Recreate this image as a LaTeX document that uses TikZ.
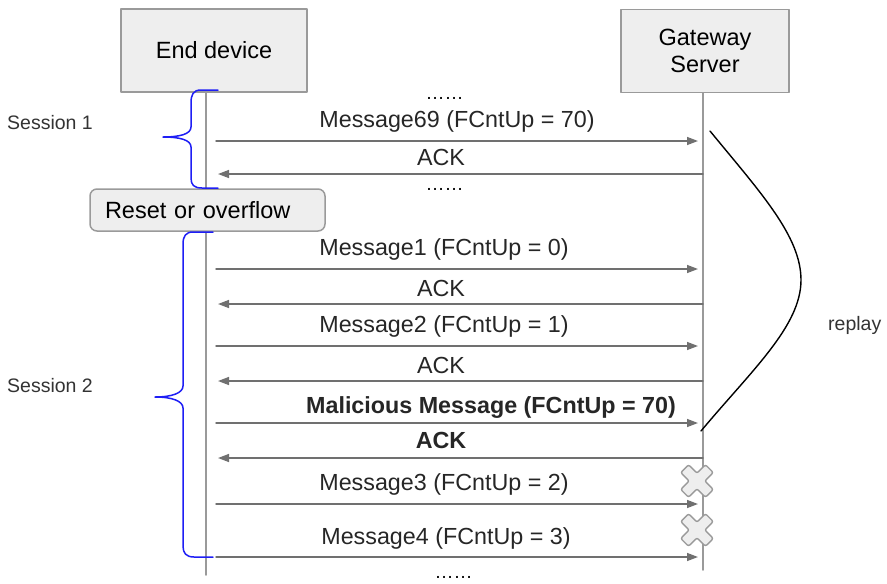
\documentclass[tikz,border=0pt]{standalone}
\usepackage{fontspec}
\setmainfont{Liberation Sans}
\usetikzlibrary{arrows.meta}
\definecolor{boxfill}{HTML}{EEEEEE}
\definecolor{boxline}{HTML}{9A9A9A}
\definecolor{msgline}{HTML}{707070}
\definecolor{braceblue}{HTML}{1E1EF5}
\begin{document}
\begin{tikzpicture}[x=1pt, y=-1pt, line join=round, line cap=round,
	actor/.style={draw=boxline, fill=boxfill, line width=1.5pt, minimum height=83pt, align=center, font=\fontsize{23.5}{27}\selectfont},
	life/.style={draw=boxline, line width=1.5pt},
	msg/.style={draw=msgline, line width=1.4pt, -{Triangle[length=11pt, width=8pt]}},
	lbl/.style={anchor=base, inner sep=0pt, font=\fontsize{23.3}{27}\selectfont, text=black!85},
	side/.style={anchor=base west, inner sep=0pt, font=\fontsize{19.5}{23}\selectfont, text=black!80},
	dots/.style={anchor=base, inner sep=0pt, font=\fontsize{19}{23}\selectfont},
	brace/.style={draw=braceblue, line width=1.5pt},
	resetbox/.style={draw=boxline, fill=boxfill, line width=1.5pt, rounded corners=7pt, minimum height=42pt, text width=205pt, inner xsep=15pt, align=left, font=\fontsize{23.5}{27}\selectfont},
	crossmark/.style={draw=boxline, fill=boxfill, line width=1.4pt, rounded corners=2pt}]
	\useasboundingbox (0,0) rectangle (887,584);
	% actors and lifelines
	\node[actor, minimum width=186pt] (ed) at (214,50.5) {End device};
	\node[actor, minimum width=168pt] (gw) at (705,51) {Gateway\\Server};
	\coordinate (edtop) at (206,92);
	\coordinate (edbot) at (206,575);
	\coordinate (gwtop) at (703,93);
	\coordinate (gwbot) at (703,570);
	\draw[life] (edtop) -- (edbot);
	\draw[life] (gwtop) -- (gwbot);
	% uplink messages
	\foreach \n/\ay/\tx/\ty/\txt in {m69/141/457/127/Message69 (FCntUp = 70),
		m1/269/444/255/Message1 (FCntUp = 0), m2/346/444/332/Message2 (FCntUp = 1),
		mal/423/491/413/\textbf{Malicious Message (FCntUp = 70)},
		m3/504/444/490/Message3 (FCntUp = 2), m4/557/446/544/Message4 (FCntUp = 3)}{
		\coordinate (\n-s) at (216,\ay);
		\coordinate (\n-e) at (698,\ay);
		\draw[msg] (\n-s) -- (\n-e);
		\node[lbl] (\n-l) at (\tx,\ty) {\txt};
	}
	% acks
	\foreach \n/\ay/\ty/\txt in {a1/174/165/ACK, a2/304/296/ACK, a3/381/373/ACK, a4/458/448/\textbf{ACK}}{
		\coordinate (\n-s) at (703,\ay);
		\coordinate (\n-e) at (218,\ay);
		\draw[msg] (\n-s) -- (\n-e);
		\node[lbl] (\n-l) at (441,\ty) {\txt};
	}
	% lost messages
	\foreach \cy in {481,530}{
		\begin{scope}[shift={(697,\cy)}, rotate=45]
			\draw[crossmark] (-5.5,-17.5) -- (5.5,-17.5) -- (5.5,-5.5) -- (17.5,-5.5) -- (17.5,5.5) -- (5.5,5.5) -- (5.5,17.5) -- (-5.5,17.5) -- (-5.5,5.5) -- (-17.5,5.5) -- (-17.5,-5.5) -- (-5.5,-5.5) -- cycle;
		\end{scope}
	}
	% dots
	\node[dots] (d1) at (444.5,99) {……};
	\node[dots] (d2) at (444.5,190) {……};
	\node[dots] (d3) at (453.5,578) {……};
	% sessions
	\node[resetbox] (rst) at (207.5,210) {Reset or overflow};
	\node[side] (s1) at (7,129) {Session 1};
	\node[side] (s2) at (7,392) {Session 2};
	\draw[brace] (218,90) -- (201,90) .. controls (193,90) and (191,95) .. (191,103) -- (191,127)
		.. controls (191,134) and (180,137) .. (163,137) .. controls (180,137) and (191,140) .. (191,147)
		-- (191,178) .. controls (191,185) and (194,188) .. (202,188) -- (218,188);
	\draw[brace] (213,232) -- (193,232) .. controls (186,232) and (183,236) .. (183,244) -- (183,386)
		.. controls (183,393) and (172,397) .. (155,397) .. controls (172,397) and (183,401) .. (183,408)
		-- (183,546) .. controls (183,553) and (186,557) .. (194,557) -- (213,557);
	% replay
	\coordinate (rp-a) at (710,131);
	\coordinate (rp-m) at (801,280);
	\coordinate (rp-b) at (701,431);
	\draw[line width=1.4pt] (rp-a) .. controls (760,192) and (801,236) .. (rp-m)
		.. controls (801,326) and (752,370) .. (rp-b);
	\node[side] (rp) at (828,330) {replay};
\end{tikzpicture}
\end{document}
